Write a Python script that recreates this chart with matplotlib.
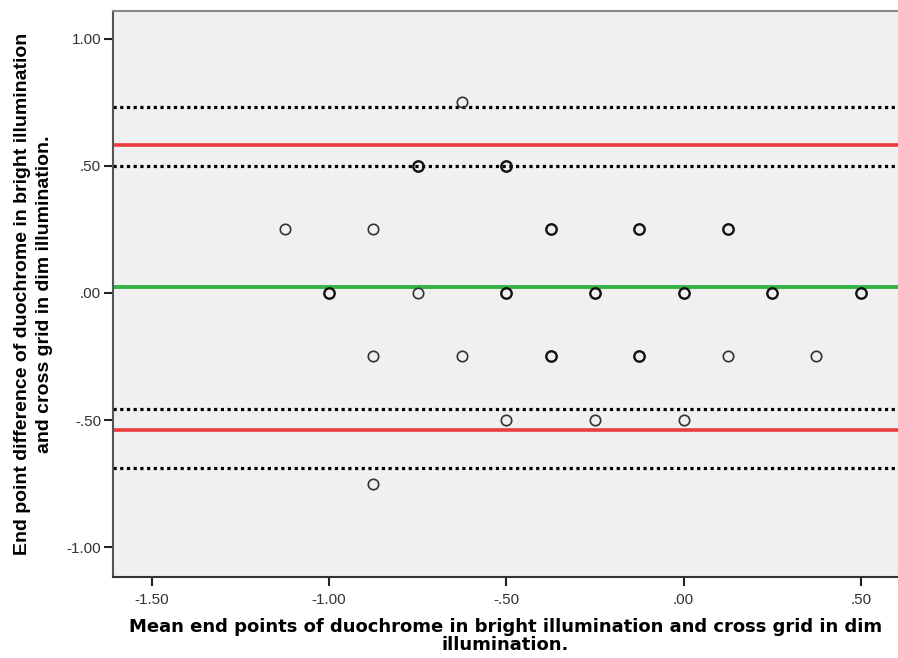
import matplotlib
matplotlib.use("Agg")
import matplotlib.pyplot as plt
import numpy as np

# Bland-Altman data: mean of the two methods vs their difference
mean_vals = [-0.625,
             -0.75, -0.5,
             -1.125, -0.875, -0.375, -0.125, 0.125,
             -1.0, -0.75, -0.5, -0.25, 0.0, 0.25, 0.5,
             -0.875, -0.625, -0.375, -0.125, 0.125, 0.375,
             -0.5, -0.25, 0.0,
             -0.875]
diff_vals = [0.75,
             0.5, 0.5,
             0.25, 0.25, 0.25, 0.25, 0.25,
             0.0, 0.0, 0.0, 0.0, 0.0, 0.0, 0.0,
             -0.25, -0.25, -0.25, -0.25, -0.25, -0.25,
             -0.5, -0.5, -0.5,
             -0.75]
# number of overlapping cases at each point
counts = [1,
          2, 2,
          1, 1, 2, 2, 2,
          2, 1, 2, 2, 2, 2, 2,
          1, 1, 2, 2, 1, 1,
          1, 1, 1,
          1]

mean_diff = 0.024
upper_loa = 0.583
lower_loa = -0.539
upper_ci = [0.732, 0.500]
lower_ci = [-0.457, -0.689]

xticks = [-1.5, -1.0, -0.5, 0.0, 0.5]
xticklabels = ["-1.50", "-1.00", "-.50", ".00", ".50"]
yticks = [-1.0, -0.5, 0.0, 0.5, 1.0]
yticklabels = ["-1.00", "-.50", ".00", ".50", "1.00"]

fig = plt.figure(figsize=(8.98, 6.58), dpi=100)
ax = fig.add_axes([0.1258, 0.1231, 0.8742, 0.8602])
ax.set_facecolor("#F0F0F0")

ax.set_xlim(-1.61, 0.605)
ax.set_ylim(-1.118, 1.11)

# reference lines
for v in upper_ci + lower_ci:
    ax.axhline(v, color="black", linewidth=2.3, linestyle=(0, (1, 1.1)), zorder=2)
ax.axhline(upper_loa, color="#EE3B3B", linewidth=2.6, zorder=2)
ax.axhline(lower_loa, color="#EE3B3B", linewidth=2.6, zorder=2)
ax.axhline(mean_diff, color="#33B444", linewidth=2.8, zorder=2)

# points, thicker rings where cases overlap
x = np.array(mean_vals)
y = np.array(diff_vals)
c = np.array(counts)
ax.plot(x[c == 1], y[c == 1], "o", markersize=7.5, markerfacecolor="none",
        markeredgecolor="#333333", markeredgewidth=1.2, zorder=3)
ax.plot(x[c > 1], y[c > 1], "o", markersize=7.5, markerfacecolor="none",
        markeredgecolor="#111111", markeredgewidth=1.7, zorder=3)

ax.set_xticks(xticks)
ax.set_xticklabels(xticklabels)
ax.set_yticks(yticks)
ax.set_yticklabels(yticklabels)
ax.tick_params(axis="both", direction="out", length=6.5, width=1.5,
               color="#222222", labelcolor="#333333", labelsize=11)
ax.tick_params(axis="x", pad=5)
ax.tick_params(axis="y", pad=2)
for lab in ax.get_xticklabels() + ax.get_yticklabels():
    lab.set_family("Liberation Sans")

ax.spines["right"].set_visible(False)
ax.spines["top"].set_color("#888888")
ax.spines["top"].set_linewidth(1.5)
ax.spines["left"].set_color("#555555")
ax.spines["left"].set_linewidth(1.5)
ax.spines["bottom"].set_color("#333333")
ax.spines["bottom"].set_linewidth(1.5)

ax.set_xlabel("Mean end points of duochrome in bright illumination and cross grid in dim\nillumination.",
              fontsize=13, fontweight="bold", family="DejaVu Sans", labelpad=8,
              linespacing=1.0)
ax.set_ylabel("End point difference of duochrome in bright illumination\nand cross grid in dim illumination.",
              fontsize=14, fontweight="bold", family="Liberation Sans", labelpad=10,
              linespacing=1.35)

fig.savefig("out.png", dpi=100)
